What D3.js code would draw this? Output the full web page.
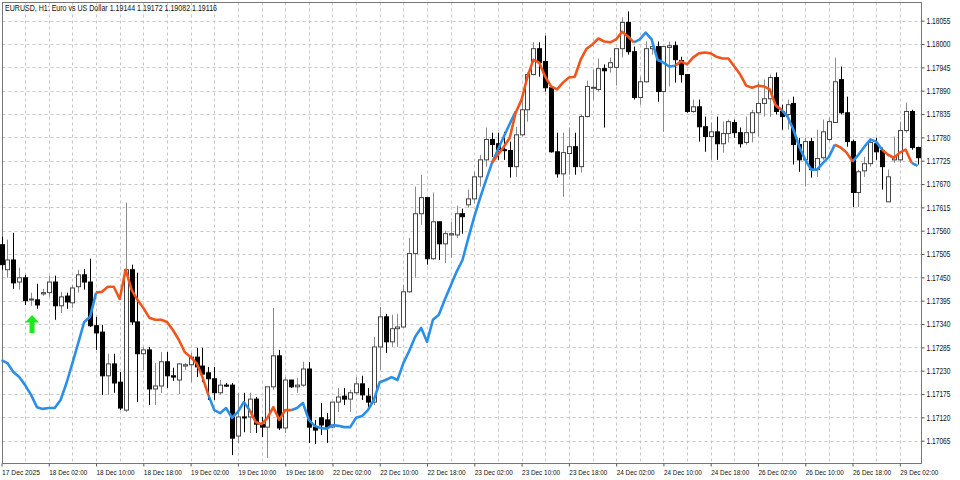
<!DOCTYPE html>
<html><head><meta charset="utf-8">
<script src="https://cdn.jsdelivr.net/npm/d3@7"></script>
<style>body{margin:0;background:#fff}svg{display:block}text{font-family:"Liberation Sans",sans-serif}</style>
</head><body><svg id="c" width="960" height="480"></svg>
<script>
const title = "EURUSD, H1:  Euro vs US Dollar  1.19144 1.19172 1.19082 1.19116";
const open = [1.17527,1.17468,1.17491,1.17439,1.17449,1.17397,1.17397,1.17411,1.17414,1.17439,1.17383,1.17406,1.17390,1.17428,1.17456,1.17439,1.17336,1.17321,1.17218,1.17246,1.17203,1.17137,1.17468,1.17345,1.17270,1.17279,1.17187,1.17194,1.17251,1.17218,1.17208,1.17241,1.17244,1.17262,1.17241,1.17225,1.17211,1.17178,1.17196,1.17196,1.17076,1.17121,1.17121,1.17163,1.17104,1.17097,1.17192,1.17265,1.17095,1.17208,1.17192,1.17196,1.17234,1.17097,1.17119,1.17114,1.17097,1.17156,1.17170,1.17163,1.17178,1.17199,1.17170,1.17156,1.17286,1.17357,1.17298,1.17329,1.17333,1.17416,1.17506,1.17600,1.17638,1.17494,1.17581,1.17529,1.17550,1.17550,1.17600,1.17621,1.17635,1.17687,1.17727,1.17775,1.17765,1.17751,1.17749,1.17711,1.17786,1.17845,1.17928,1.17989,1.17959,1.17897,1.17746,1.17694,1.17742,1.17758,1.17711,1.17829,1.17897,1.17893,1.17942,1.17945,1.17945,1.17989,1.18051,1.17982,1.17874,1.17911,1.17989,1.17994,1.17888,1.17992,1.17996,1.17961,1.17928,1.17841,1.17852,1.17805,1.17782,1.17793,1.17765,1.17789,1.17815,1.17791,1.17768,1.17791,1.17838,1.17860,1.17871,1.17921,1.17841,1.17834,1.17860,1.17763,1.17727,1.17770,1.17704,1.17732,1.17775,1.17815,1.17916,1.17838,1.17770,1.17650,1.17701,1.17718,1.17765,1.17749,1.17628,1.17727,1.17727,1.17796,1.17841,1.17756];
const high = [1.17546,1.17539,1.17555,1.17473,1.17456,1.17414,1.17435,1.17423,1.17454,1.17454,1.17416,1.17414,1.17432,1.17468,1.17470,1.17494,1.17357,1.17338,1.17270,1.17270,1.17227,1.17626,1.17480,1.17461,1.17286,1.17286,1.17248,1.17274,1.17274,1.17237,1.17248,1.17248,1.17272,1.17284,1.17284,1.17239,1.17239,1.17208,1.17201,1.17201,1.17178,1.17178,1.17178,1.17168,1.17121,1.17192,1.17378,1.17279,1.17215,1.17208,1.17213,1.17251,1.17251,1.17114,1.17154,1.17130,1.17156,1.17189,1.17189,1.17185,1.17215,1.17218,1.17189,1.17310,1.17380,1.17364,1.17362,1.17364,1.17432,1.17543,1.17664,1.17692,1.17638,1.17650,1.17581,1.17560,1.17581,1.17619,1.17612,1.17657,1.17699,1.17739,1.17803,1.17791,1.17791,1.17793,1.17770,1.17805,1.17869,1.17933,1.18004,1.18004,1.18020,1.17897,1.17791,1.17791,1.17803,1.17791,1.17834,1.17914,1.17940,1.17966,1.17952,1.17968,1.17989,1.18063,1.18077,1.17994,1.17923,1.18006,1.18006,1.18006,1.17994,1.18006,1.18006,1.17970,1.17928,1.17869,1.17869,1.17829,1.17815,1.17829,1.17817,1.17822,1.17822,1.17803,1.17829,1.17845,1.17911,1.17916,1.17928,1.17933,1.17857,1.17869,1.17876,1.17779,1.17779,1.17779,1.17798,1.17822,1.17827,1.17968,1.17947,1.17876,1.17775,1.17704,1.17734,1.17779,1.17779,1.17756,1.17704,1.17782,1.17817,1.17862,1.17845,1.17758];
const low = [1.17468,1.17449,1.17423,1.17421,1.17385,1.17383,1.17376,1.17406,1.17404,1.17350,1.17366,1.17376,1.17378,1.17414,1.17421,1.17333,1.17279,1.17173,1.17173,1.17178,1.17137,1.17133,1.17338,1.17156,1.17232,1.17149,1.17149,1.17178,1.17189,1.17206,1.17175,1.17232,1.17203,1.17215,1.17203,1.17161,1.17161,1.17173,1.17192,1.17031,1.17060,1.17085,1.17083,1.17083,1.17074,1.17024,1.17185,1.17090,1.17083,1.17189,1.17178,1.17192,1.17060,1.17057,1.17078,1.17060,1.17095,1.17133,1.17149,1.17133,1.17173,1.17161,1.17144,1.17149,1.17232,1.17272,1.17286,1.17286,1.17331,1.17414,1.17449,1.17574,1.17480,1.17491,1.17491,1.17484,1.17496,1.17543,1.17553,1.17614,1.17624,1.17664,1.17711,1.17734,1.17727,1.17727,1.17685,1.17687,1.17782,1.17817,1.17926,1.17923,1.17888,1.17744,1.17685,1.17640,1.17692,1.17692,1.17697,1.17827,1.17869,1.17888,1.17803,1.17933,1.17902,1.17968,1.17975,1.17869,1.17857,1.17909,1.17975,1.17864,1.17793,1.17900,1.17909,1.17909,1.17838,1.17838,1.17770,1.17746,1.17727,1.17727,1.17744,1.17768,1.17779,1.17756,1.17763,1.17768,1.17782,1.17829,1.17829,1.17834,1.17798,1.17798,1.17716,1.17699,1.17664,1.17685,1.17687,1.17727,1.17770,1.17815,1.17834,1.17758,1.17616,1.17616,1.17687,1.17711,1.17727,1.17657,1.17628,1.17720,1.17720,1.17791,1.17751,1.17716];
const close = [1.17480,1.17491,1.17437,1.17449,1.17395,1.17399,1.17385,1.17414,1.17439,1.17383,1.17404,1.17392,1.17425,1.17456,1.17439,1.17336,1.17319,1.17218,1.17246,1.17201,1.17142,1.17468,1.17345,1.17270,1.17279,1.17187,1.17194,1.17251,1.17218,1.17215,1.17246,1.17244,1.17262,1.17239,1.17222,1.17211,1.17178,1.17196,1.17194,1.17071,1.17121,1.17119,1.17163,1.17104,1.17097,1.17192,1.17265,1.17095,1.17208,1.17192,1.17196,1.17234,1.17097,1.17090,1.17102,1.17097,1.17156,1.17168,1.17163,1.17178,1.17199,1.17173,1.17156,1.17286,1.17357,1.17298,1.17329,1.17333,1.17416,1.17506,1.17600,1.17638,1.17494,1.17581,1.17529,1.17553,1.17553,1.17600,1.17593,1.17635,1.17687,1.17727,1.17775,1.17763,1.17751,1.17749,1.17711,1.17786,1.17845,1.17928,1.17989,1.17956,1.17897,1.17746,1.17694,1.17744,1.17758,1.17711,1.17829,1.17900,1.17898,1.17942,1.17937,1.17956,1.17989,1.18051,1.17982,1.17874,1.17911,1.17989,1.17994,1.17888,1.17994,1.17996,1.17963,1.17928,1.17841,1.17852,1.17805,1.17782,1.17793,1.17765,1.17789,1.17817,1.17791,1.17765,1.17791,1.17838,1.17860,1.17871,1.17921,1.17841,1.17829,1.17857,1.17763,1.17727,1.17770,1.17704,1.17730,1.17793,1.17817,1.17911,1.17838,1.17770,1.17650,1.17699,1.17718,1.17768,1.17746,1.17711,1.17687,1.17734,1.17796,1.17841,1.17756,1.17732];
const blueSegs = [
 [0,[1.17255,1.17248,1.17227,1.17215,1.17196,1.17173,1.17144,1.17140,1.17142,1.17142,1.17161,1.17201,1.17248,1.17296,1.17345,1.17357,1.17414]],
 [35,[1.17173,1.17137,1.17130,1.17142,1.17119,1.17133,1.17156,1.17137]],
 [49,[1.17137,1.17142,1.17154,1.17114,1.17100,1.17095,1.17093,1.17102,1.17100,1.17097,1.17097,1.17119,1.17123,1.17137,1.17161,1.17203,1.17208,1.17215,1.17208,1.17248,1.17277,1.17310,1.17331,1.17298,1.17350,1.17362,1.17397,1.17430,1.17463,1.17491,1.17543,1.17593,1.17638,1.17680,1.17720,1.17751,1.17782,1.17812,1.17841]],
 [107,[1.18004,1.18011,1.18027,1.18011,1.17963,1.17956,1.17947,1.17949]],
 [131,[1.17855,1.17845,1.17829,1.17798,1.17758,1.17727,1.17704,1.17704,1.17720,1.17734,1.17763]],
 [144,[1.17723,1.17739,1.17758,1.17775,1.17770,1.17751]],
 [154,[1.17720,1.17713]]
];
const orangeSegs = [
 [16,[1.17414,1.17416,1.17428,1.17428,1.17399,1.17468,1.17421,1.17397,1.17378,1.17355,1.17350,1.17350,1.17345,1.17326,1.17303,1.17274,1.17262,1.17248,1.17215,1.17173]],
 [42,[1.17137,1.17109,1.17104,1.17119,1.17144,1.17114,1.17137,1.17137]],
 [83,[1.17720,1.17739,1.17758,1.17779,1.17838,1.17869,1.17923,1.17963,1.17956,1.17923,1.17900,1.17893,1.17909,1.17921,1.17923,1.17963,1.17989,1.17999,1.18013,1.18006,1.18004,1.18011,1.18029,1.18018,1.18004]],
 [114,[1.17949,1.17959,1.17952,1.17968,1.17978,1.17980,1.17978,1.17970,1.17966,1.17966,1.17947,1.17928,1.17902,1.17897,1.17902,1.17900,1.17893,1.17855,1.17845]],
 [141,[1.17763,1.17756,1.17744,1.17723]],
 [149,[1.17751,1.17739,1.17732,1.17744,1.17751,1.17720]]
];
const arrowBars = [5];
const arrowPrices = [1.17340];
const yTicks = [1.18055,1.18000,1.17945,1.17890,1.17835,1.17780,1.17725,1.17670,1.17615,1.17560,1.17505,1.17450,1.17395,1.17340,1.17285,1.17230,1.17175,1.17120,1.17065];
const xTickBars = [0,8,16,24,32,40,48,56,64,72,80,88,96,104,112,120,128,136,144,152];
const xTickLabels = ["17 Dec 2025","18 Dec 02:00","18 Dec 10:00","18 Dec 18:00","19 Dec 02:00","19 Dec 10:00","19 Dec 18:00","22 Dec 02:00","22 Dec 10:00","22 Dec 18:00","23 Dec 02:00","23 Dec 10:00","23 Dec 18:00","24 Dec 02:00","24 Dec 10:00","24 Dec 18:00","26 Dec 02:00","26 Dec 10:00","26 Dec 18:00","29 Dec 02:00"];

const svg = d3.select("#c");
const L=2.5, R=921.5, T=2.5, B=463.5;
const x = d3.scaleLinear().domain([0,155]).range([1.5,1.5+5.91*155]);
const y = d3.scaleLinear().domain([1.17065,1.18055]).range([440.7,20.7]);

const g = svg.append("g");
g.selectAll("line.v").data(d3.range(4,156,4)).join("line").attr("x1",d=>Math.round(x(d))+0.5).attr("x2",d=>Math.round(x(d))+0.5)
 .attr("y1",T).attr("y2",B).attr("stroke","#c8c8c8").attr("stroke-dasharray","3,3");
g.selectAll("line.h").data(yTicks).join("line").attr("y1",d=>Math.round(y(d))+0.5).attr("y2",d=>Math.round(y(d))+0.5)
 .attr("x1",L).attr("x2",R).attr("stroke","#c8c8c8").attr("stroke-dasharray","3,3");
svg.append("rect").attr("x",L).attr("y",T).attr("width",R-L).attr("height",B-T).attr("fill","none").attr("stroke","#777");

const idx = d3.range(open.length);
const cg = svg.append("g");
cg.selectAll("line.w").data(idx).join("line")
 .attr("x1",i=>Math.round(x(i))+0.5).attr("x2",i=>Math.round(x(i))+0.5)
 .attr("y1",i=>y(high[i])).attr("y2",i=>y(low[i]))
 .attr("stroke",i=>close[i]>=open[i]?"#8a8a8a":"#000").attr("stroke-width",1);
cg.selectAll("rect").data(idx).join("rect")
 .attr("x",i=>Math.round(x(i))-1.5).attr("width",4)
 .attr("y",i=>y(Math.max(open[i],close[i]))).attr("height",i=>Math.max(1,Math.abs(y(open[i])-y(close[i]))))
 .attr("fill",i=>close[i]>=open[i]?"#fff":"#000").attr("stroke",i=>close[i]>=open[i]?"#444":"#000").attr("stroke-width",1);

const line = d3.line().x(d=>x(d[0])).y(d=>y(d[1]));
function segs(list,color){
  list.forEach(([s,vals])=>{
    svg.append("path").attr("d",line(vals.map((v,k)=>[s+k,v]))).attr("fill","none")
     .attr("stroke",color).attr("stroke-width",2.6).attr("stroke-linejoin","round");
  });
}
segs(blueSegs,"#2b8fe8");
segs(orangeSegs,"#f0561c");

svg.selectAll("path.arr").data(arrowBars).join("path")
 .attr("transform",(d,k)=>`translate(${x(d)+1},${y(arrowPrices[k])})`)
 .attr("d","M0,-9 L7,-1.5 L2.5,-1.5 L2.5,9 L-2.5,9 L-2.5,-1.5 L-7,-1.5 Z").attr("fill","#1ee81e");

const ya = svg.append("g").attr("transform",`translate(${R},0)`)
 .call(d3.axisRight(y).tickValues(yTicks).tickFormat(d3.format(".5f")).tickSize(3).tickPadding(2));
ya.select(".domain").remove();
ya.selectAll("line").attr("stroke","#555");
ya.selectAll("text").attr("font-size","8.5px").attr("fill","#111").style("font-family","Liberation Sans")
 .attr("textLength",24).attr("lengthAdjust","spacingAndGlyphs");

const xa = svg.append("g").attr("transform",`translate(0,${B})`)
 .call(d3.axisBottom(x).tickValues(xTickBars).tickFormat((d,k)=>xTickLabels[k]).tickSize(3).tickPadding(3));
xa.select(".domain").remove();
xa.selectAll("line").attr("stroke","#555");
xa.selectAll("text").attr("text-anchor","start").attr("dx",0).attr("font-size","8px").attr("fill","#111").style("font-family","Liberation Sans")
 .attr("textLength",38).attr("lengthAdjust","spacingAndGlyphs");

svg.append("text").attr("x",5).attr("y",11).attr("font-size","8.5px").attr("fill","#111")
 .attr("textLength",212).attr("lengthAdjust","spacingAndGlyphs").text(title);
</script></body></html>
